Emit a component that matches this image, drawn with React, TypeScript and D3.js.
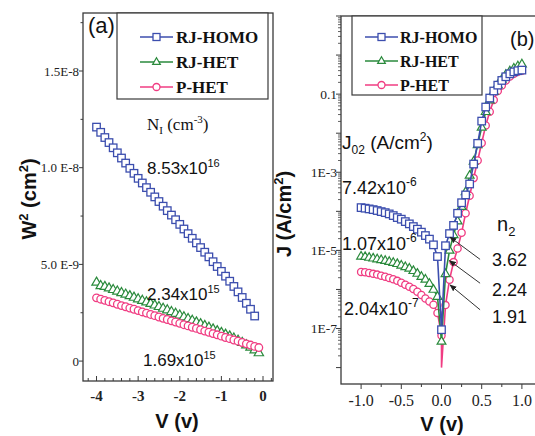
import React from 'react';
import * as d3 from 'd3';

const W = 535;
const H = 436;

const SERIF = '"Liberation Serif", "Times New Roman", serif';
const SANS = '"Liberation Sans", Arial, sans-serif';

const BLUE = '#3c4eae';
const GREEN = '#2a8a3c';
const PINK = '#f03c82';
const FRAME = '#3a3a3a';

// ---- panel (a): W^2 vs V ----
const vA = [
  -4.0, -3.9, -3.8, -3.7, -3.6, -3.5, -3.4, -3.3, -3.2, -3.1,
  -3.0, -2.9, -2.8, -2.7, -2.6, -2.5, -2.4, -2.3, -2.2, -2.1,
  -2.0, -1.9, -1.8, -1.7, -1.6, -1.5, -1.4, -1.3, -1.2, -1.1,
  -1.0, -0.9, -0.8, -0.7, -0.6, -0.5, -0.4, -0.3, -0.2, -0.1,
];
// W^2 in units of 1e-9 cm^2
const w2Homo = [
  12.10, 11.83, 11.56, 11.30, 11.03, 10.77, 10.50, 10.24, 9.97, 9.71,
  9.45, 9.21, 8.97, 8.73, 8.49, 8.25, 8.01, 7.78, 7.55, 7.31,
  7.07, 6.83, 6.59, 6.35, 6.11, 5.87, 5.63, 5.39, 5.14, 4.89,
  4.64, 4.39, 4.13, 3.86, 3.58, 3.29, 2.99, 2.68, 2.33,
];
const w2RjHet = [
  4.08, 3.90, 3.86, 3.78, 3.70, 3.62, 3.54, 3.46, 3.38, 3.30,
  3.22, 3.14, 3.06, 2.98, 2.90, 2.82, 2.73, 2.65, 2.56, 2.47,
  2.38, 2.29, 2.20, 2.11, 2.02, 1.93, 1.84, 1.75, 1.66, 1.57,
  1.48, 1.39, 1.30, 1.19, 1.08, 0.96, 0.84, 0.72, 0.58, 0.43,
];
const w2PHet = [
  3.27, 3.20, 3.14, 3.07, 3.01, 2.94, 2.87, 2.81, 2.74, 2.68,
  2.61, 2.54, 2.48, 2.41, 2.35, 2.28, 2.21, 2.15, 2.08, 2.02,
  1.95, 1.88, 1.82, 1.75, 1.69, 1.62, 1.55, 1.49, 1.42, 1.36,
  1.29, 1.22, 1.16, 1.09, 1.03, 0.96, 0.89, 0.83, 0.76, 0.70,
];
const yTicksA = [0, 5e-9, 1e-8, 1.5e-8];
const yTickLabelsA = ['0', '5.0 E-9', '1.0 E-8', '1.5E-8'];
const yMinorA = [2.5e-9, 7.5e-9, 1.25e-8, 1.75e-8];
const xTicksA = [-4, -3, -2, -1, 0];
const xMinorA = [-4.2, -3.8, -3.6, -3.4, -3.2, -2.8, -2.6, -2.4, -2.2, -1.8, -1.6, -1.4, -1.2, -0.8, -0.6, -0.4, -0.2, 0.2];

// ---- panel (b): J vs V (log10 of J) ----
const vB = [
  -1.0, -0.95, -0.9, -0.85, -0.8, -0.75, -0.7, -0.65, -0.6, -0.55,
  -0.5, -0.45, -0.4, -0.35, -0.3, -0.25, -0.2, -0.15, -0.1, -0.05,
  0.0, 0.05, 0.1, 0.15, 0.2, 0.25, 0.3, 0.35, 0.4, 0.45,
  0.5, 0.55, 0.6, 0.65, 0.7, 0.75, 0.8, 0.85, 0.9, 0.95, 1.0,
];
const logJHomo = [
  -3.905, -3.92, -3.938, -3.956, -3.98, -4.007, -4.033, -4.066, -4.109, -4.16,
  -4.201, -4.263, -4.321, -4.39, -4.457, -4.533, -4.62, -4.712, -4.858, -5.157,
  -7.03, -4.88, -4.57, -4.36, -4.05, -3.78, -3.58, -3.30, -2.79, -2.26,
  -1.69, -1.33, -1.10, -0.92, -0.77, -0.65, -0.555, -0.48, -0.43, -0.40, -0.385,
];
const logJRjHet = [
  -5.15, -5.16, -5.18, -5.20, -5.22, -5.24, -5.26, -5.285, -5.31, -5.34,
  -5.38, -5.42, -5.46, -5.52, -5.59, -5.67, -5.74, -5.85, -6.00, -6.18,
  -7.33, -5.6, -5.0, -4.6, -4.25, -3.88, -3.5, -3.08, -2.72, -2.3,
  -1.85, -1.45, -1.15, -0.93, -0.76, -0.62, -0.5, -0.41, -0.34, -0.28, -0.23,
];
const logJPHet = [
  -5.55, -5.56, -5.58, -5.60, -5.62, -5.65, -5.675, -5.705, -5.74, -5.78,
  -5.83, -5.88, -5.93, -5.99, -6.06, -6.14, -6.23, -6.31, -6.39, -6.6,
  -7.18, -6.4, -5.75, -5.3, -4.95, -4.55, -4.05, -3.6, -3.15, -2.7,
  -2.25, -1.8, -1.45, -1.15, -0.92, -0.78, -0.65, -0.55, -0.48, -0.43, -0.40,
];
// the P-HET line dips to ~1e-8 right at 0 V (no marker there)
const pHetDip = { v: 0.0, logJ: -8.0 };

const xTicksB = [-1.0, -0.5, 0.0, 0.5, 1.0];
const xTickLabelsB = ['-1.0', '-0.5', '0.0', '0.5', '1.0'];
const xMinorB = [-0.75, -0.25, 0.25, 0.75];
const yLabelTicksB = [0.1, 1e-3, 1e-5, 1e-7];
const yLabelTextB = ['0.1', '1E-3', '1E-5', '1E-7'];
const decadesB = [1e-8, 1e-7, 1e-6, 1e-5, 1e-4, 1e-3, 1e-2, 0.1, 1, 10];

// n2 arrows, tail -> tip in data units (V, log10 J)
const arrows = [
  { from: [0.48, -5.23], to: [0.106, -4.66] },
  { from: [0.48, -5.84], to: [0.098, -5.26] },
  { from: [0.48, -6.52], to: [0.106, -5.885] },
];

const seriesNames = ['RJ-HOMO', 'RJ-HET', 'P-HET'];
const seriesColors = [BLUE, GREEN, PINK];
const seriesShapes = ['square', 'triangle', 'circle'];

function Marker({ shape, x, y, color, s }) {
  if (shape === 'square') {
    return <rect x={x - s / 2} y={y - s / 2} width={s} height={s} fill="white" stroke={color} strokeWidth={1.3} />;
  }
  if (shape === 'triangle') {
    const d = `M${x},${y - s * 0.6} L${x + s * 0.55},${y + s * 0.35} L${x - s * 0.55},${y + s * 0.35} Z`;
    return <path d={d} fill="white" stroke={color} strokeWidth={1.2} />;
  }
  return <circle cx={x} cy={y} r={s / 2} fill="white" stroke={color} strokeWidth={1.3} />;
}

function Legend({ x, y, w, h, rowY, lineX0, lineX1, textX, fontSize, s }) {
  return (
    <g>
      <rect x={x} y={y} width={w} height={h} fill="white" stroke={FRAME} strokeWidth={1.2} />
      {seriesNames.map((name, i) => (
        <g key={name}>
          <line x1={lineX0} x2={lineX1} y1={rowY[i]} y2={rowY[i]} stroke={seriesColors[i]} strokeWidth={1.4} />
          <Marker shape={seriesShapes[i]} x={(lineX0 + lineX1) / 2} y={rowY[i]} color={seriesColors[i]} s={s} />
          <text x={textX} y={rowY[i] + 6} fontFamily={SERIF} fontWeight="bold" fontSize={fontSize} fill="#111">{name}</text>
        </g>
      ))}
    </g>
  );
}

function PanelA() {
  const left = 83, right = 273, top = 13, bottom = 381;
  const x = d3.scaleLinear().domain([-4.325, 0.24]).range([left, right]);
  const y = d3.scaleLinear().domain([-1.03e-9, 1.8e-8]).range([bottom, top]);
  const line = d3.line<[number, number]>().x(d => x(d[0])).y(d => y(d[1] * 1e-9));
  const sets = [w2Homo, w2RjHet, w2PHet].map(arr => arr.map((w, i) => [vA[i], w] as [number, number]));
  const order = [1, 2, 0];
  const sizes = { square: 7.5, triangle: 8.5, circle: 7.6 };
  return (
    <g>
      {order.map(k => (
        <g key={k}>
          <path d={line(sets[k]) || ''} fill="none" stroke={seriesColors[k]} strokeWidth={1.2} />
          {sets[k].map((p, i) => (
            <Marker key={i} shape={seriesShapes[k]} x={x(p[0])} y={y(p[1] * 1e-9)} color={seriesColors[k]} s={sizes[seriesShapes[k]]} />
          ))}
        </g>
      ))}
      <rect x={left} y={top} width={right - left} height={bottom - top} fill="none" stroke={FRAME} strokeWidth={1.3} />
      {yTicksA.map((t, i) => (
        <g key={t}>
          <line x1={left - 4} x2={left} y1={y(t)} y2={y(t)} stroke={FRAME} strokeWidth={1} />
          <text x={left - 4} y={y(t) + 4.5} textAnchor="end" fontFamily={SERIF} fontSize={13} fill="#222">{yTickLabelsA[i]}</text>
        </g>
      ))}
      {yMinorA.map(t => (
        <line key={t} x1={left - 2.5} x2={left} y1={y(t)} y2={y(t)} stroke={FRAME} strokeWidth={1} />
      ))}
      {xTicksA.map(t => (
        <g key={t}>
          <line x1={x(t)} x2={x(t)} y1={bottom} y2={bottom - 5} stroke={FRAME} strokeWidth={1} />
          <text x={x(t)} y={401} textAnchor="middle" fontFamily={SERIF} fontWeight="bold" fontSize={15} fill="#222">{t === 0 ? '0' : `-${Math.abs(t)}`}</text>
        </g>
      ))}
      {xMinorA.map(t => (
        <line key={t} x1={x(t)} x2={x(t)} y1={bottom} y2={bottom - 3} stroke={FRAME} strokeWidth={1} />
      ))}
      <Legend x={117} y={13} w={151} h={86} rowY={[37, 62, 87]} lineX0={140} lineX1={173} textX={176} fontSize={17} s={7} />
      <text x={88} y={33} fontFamily={SANS} fontSize={22} fill="#111">(a)</text>
      <text x={147} y={130} fontFamily={SERIF} fontSize={17} fill="#111">
        N<tspan dy={4} fontSize={11}>I</tspan><tspan dy={-4}> (cm</tspan><tspan dy={-7} fontSize={11}>-3</tspan><tspan dy={7}>)</tspan>
      </text>
      <text x={147} y={174} fontFamily={SANS} fontSize={17} fill="#111">8.53x10<tspan dy={-7} fontSize={11}>16</tspan></text>
      <text x={147} y={300} fontFamily={SANS} fontSize={17} fill="#111">2.34x10<tspan dy={-7} fontSize={11}>15</tspan></text>
      <text x={143} y={366} fontFamily={SANS} fontSize={17} fill="#111">1.69x10<tspan dy={-7} fontSize={11}>15</tspan></text>
      <text x={177} y={428} textAnchor="middle" fontFamily={SANS} fontWeight="bold" fontSize={20} fill="#111">V (v)</text>
      <text transform="translate(36,199) rotate(-90)" textAnchor="middle" fontFamily={SANS} fontWeight="bold" fontSize={20} fill="#111">
        W<tspan dy={-8} fontSize={13}>2</tspan><tspan dy={8}> (cm</tspan><tspan dy={-8} fontSize={13}>2</tspan><tspan dy={8}>)</tspan>
      </text>
    </g>
  );
}

function PanelB() {
  const left = 341, right = 542, top = 16, bottom = 384;
  const x = d3.scaleLinear().domain([-1.25, 1.25]).range([left, right]);
  const y = d3.scaleLog().domain([Math.pow(10, -8.42), 10]).range([bottom, top]);
  const line = d3.line<[number, number]>().x(d => x(d[0])).y(d => y(Math.pow(10, d[1])));
  const sets = [logJHomo, logJRjHet, logJPHet].map(arr => arr.map((l, i) => [vB[i], l] as [number, number]));
  const pinkLine = [...sets[2].slice(0, 21), [pHetDip.v, pHetDip.logJ] as [number, number], ...sets[2].slice(21)];
  const lines = [sets[0], sets[1], pinkLine];
  const order = [2, 1, 0];
  const sizes = { square: 7.5, triangle: 8, circle: 7.2 };
  const minors: number[] = [];
  decadesB.slice(0, -1).forEach(d => { for (let k = 2; k <= 9; k++) minors.push(d * k); });
  return (
    <g>
      <defs>
        <marker id="arrowhead" viewBox="0 0 10 10" refX="9" refY="5" markerWidth="7" markerHeight="7" orient="auto-start-reverse">
          <path d="M0,1 L10,5 L0,9 Z" fill="#222" />
        </marker>
      </defs>
      {order.map(k => (
        <g key={k}>
          <path d={line(lines[k]) || ''} fill="none" stroke={seriesColors[k]} strokeWidth={1.6} />
          {sets[k].map((p, i) => (
            <Marker key={i} shape={seriesShapes[k]} x={x(p[0])} y={y(Math.pow(10, p[1]))} color={seriesColors[k]} s={sizes[seriesShapes[k]]} />
          ))}
        </g>
      ))}
      <rect x={left} y={top} width={right - left} height={bottom - top} fill="none" stroke={FRAME} strokeWidth={1.3} />
      {decadesB.map(d => (
        <line key={d} x1={left - 5} x2={left} y1={y(d)} y2={y(d)} stroke={FRAME} strokeWidth={1} />
      ))}
      {minors.map(m => (
        <line key={m} x1={left - 3} x2={left} y1={y(m)} y2={y(m)} stroke={FRAME} strokeWidth={0.8} />
      ))}
      {yLabelTicksB.map((t, i) => (
        <text key={t} x={left - 4} y={y(t) + 4.5} textAnchor="end" fontFamily={SERIF} fontSize={13.5} fill="#222">{yLabelTextB[i]}</text>
      ))}
      {xTicksB.map((t, i) => (
        <g key={t}>
          <line x1={x(t)} x2={x(t)} y1={bottom} y2={bottom + 5} stroke={FRAME} strokeWidth={1} />
          <text x={x(t)} y={406} textAnchor="middle" fontFamily={SERIF} fontSize={16} fill="#222">{xTickLabelsB[i]}</text>
        </g>
      ))}
      {xMinorB.map(t => (
        <line key={t} x1={x(t)} x2={x(t)} y1={bottom} y2={bottom + 3} stroke={FRAME} strokeWidth={1} />
      ))}
      {arrows.map((a, i) => (
        <line key={i} x1={x(a.from[0])} y1={y(Math.pow(10, a.from[1]))} x2={x(a.to[0])} y2={y(Math.pow(10, a.to[1]))}
          stroke="#333" strokeWidth={1} markerEnd="url(#arrowhead)" />
      ))}
      <Legend x={352} y={16} w={130} h={79} rowY={[37, 61, 85]} lineX0={365} lineX1={398} textX={400} fontSize={16} s={7} />
      <text x={510} y={46} fontFamily={SANS} fontSize={20} fill="#111">(b)</text>
      <text x={342} y={149} fontFamily={SANS} fontSize={19} fill="#111">
        J<tspan dy={5} fontSize={12}>02</tspan><tspan dy={-5}> (A/cm</tspan><tspan dy={-8} fontSize={12}>2</tspan><tspan dy={8}>)</tspan>
      </text>
      <text x={342} y={194} fontFamily={SANS} fontSize={18} fill="#111">7.42x10<tspan dy={-8} fontSize={12}>-6</tspan></text>
      <text x={342} y={250} fontFamily={SANS} fontSize={18} fill="#111">1.07x10<tspan dy={-8} fontSize={12}>-6</tspan></text>
      <text x={344} y={315} fontFamily={SANS} fontSize={18} fill="#111">2.04x10<tspan dy={-8} fontSize={12}>-7</tspan></text>
      <text x={497} y={231} fontFamily={SANS} fontSize={20} fill="#111">n<tspan dy={5} fontSize={13}>2</tspan></text>
      <text x={492} y={266} fontFamily={SANS} fontSize={18} fill="#111">3.62</text>
      <text x={492} y={296} fontFamily={SANS} fontSize={18} fill="#111">2.24</text>
      <text x={492} y={323} fontFamily={SANS} fontSize={18} fill="#111">1.91</text>
      <text x={442} y={431} textAnchor="middle" fontFamily={SANS} fontWeight="bold" fontSize={20} fill="#111">V (v)</text>
      <text transform="translate(291,214) rotate(-90)" textAnchor="middle" fontFamily={SANS} fontWeight="bold" fontSize={20} fill="#111">
        J (A/cm<tspan dy={-8} fontSize={13}>2</tspan><tspan dy={8}>)</tspan>
      </text>
    </g>
  );
}

export default function App() {
  return (
    <svg width={W} height={H} style={{ position: 'absolute', left: 0, top: 0, background: 'white' }}>
      <rect width={W} height={H} fill="white" />
      <PanelA />
      <PanelB />
    </svg>
  );
}
